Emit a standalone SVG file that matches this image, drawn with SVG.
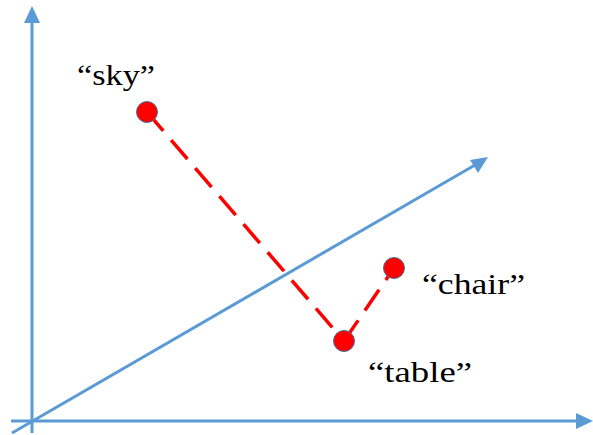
<svg xmlns="http://www.w3.org/2000/svg" width="593" height="435" viewBox="0 0 593 435">
<style>
.axis{stroke:#5B9BD5;stroke-width:3;fill:none}
.head{fill:#5B9BD5}
.link{stroke:#FF0000;stroke-width:3.5;fill:none;stroke-dasharray:25 12}
.pt{fill:#FF0000;stroke:#41719C;stroke-width:1}
.lbl{font-family:'Liberation Serif','Times New Roman','DejaVu Serif',serif;font-size:30px;fill:#000}
</style>
<g id="axes">
<line class="axis" x1="32" y1="433" x2="32" y2="20"/>
<polygon class="head" points="32,6 24,23 40,23"/>
<line class="axis" x1="11" y1="421" x2="578" y2="421"/>
<polygon class="head" points="593,421 576,413 576,429"/>
<line class="axis" x1="12" y1="433" x2="475" y2="165"/>
<polygon class="head" points="488,157 470,160 478,173"/>
</g>
<g id="connectors">
<line class="link" x1="147" y1="112" x2="344" y2="341"/>
<line class="link" x1="344" y1="341" x2="394" y2="268"/>
</g>
<g id="sky">
<circle class="pt" cx="147" cy="112" r="10.5"/>
<text class="lbl" x="77" y="85" textLength="78" lengthAdjust="spacingAndGlyphs">“sky”</text>
</g>
<g id="table">
<circle class="pt" cx="344" cy="341" r="10.5"/>
<text class="lbl" x="368" y="382" textLength="104" lengthAdjust="spacingAndGlyphs">“table”</text>
</g>
<g id="chair">
<circle class="pt" cx="394" cy="268" r="10.5"/>
<text class="lbl" x="422" y="294" textLength="103" lengthAdjust="spacingAndGlyphs">“chair”</text>
</g>
</svg>
